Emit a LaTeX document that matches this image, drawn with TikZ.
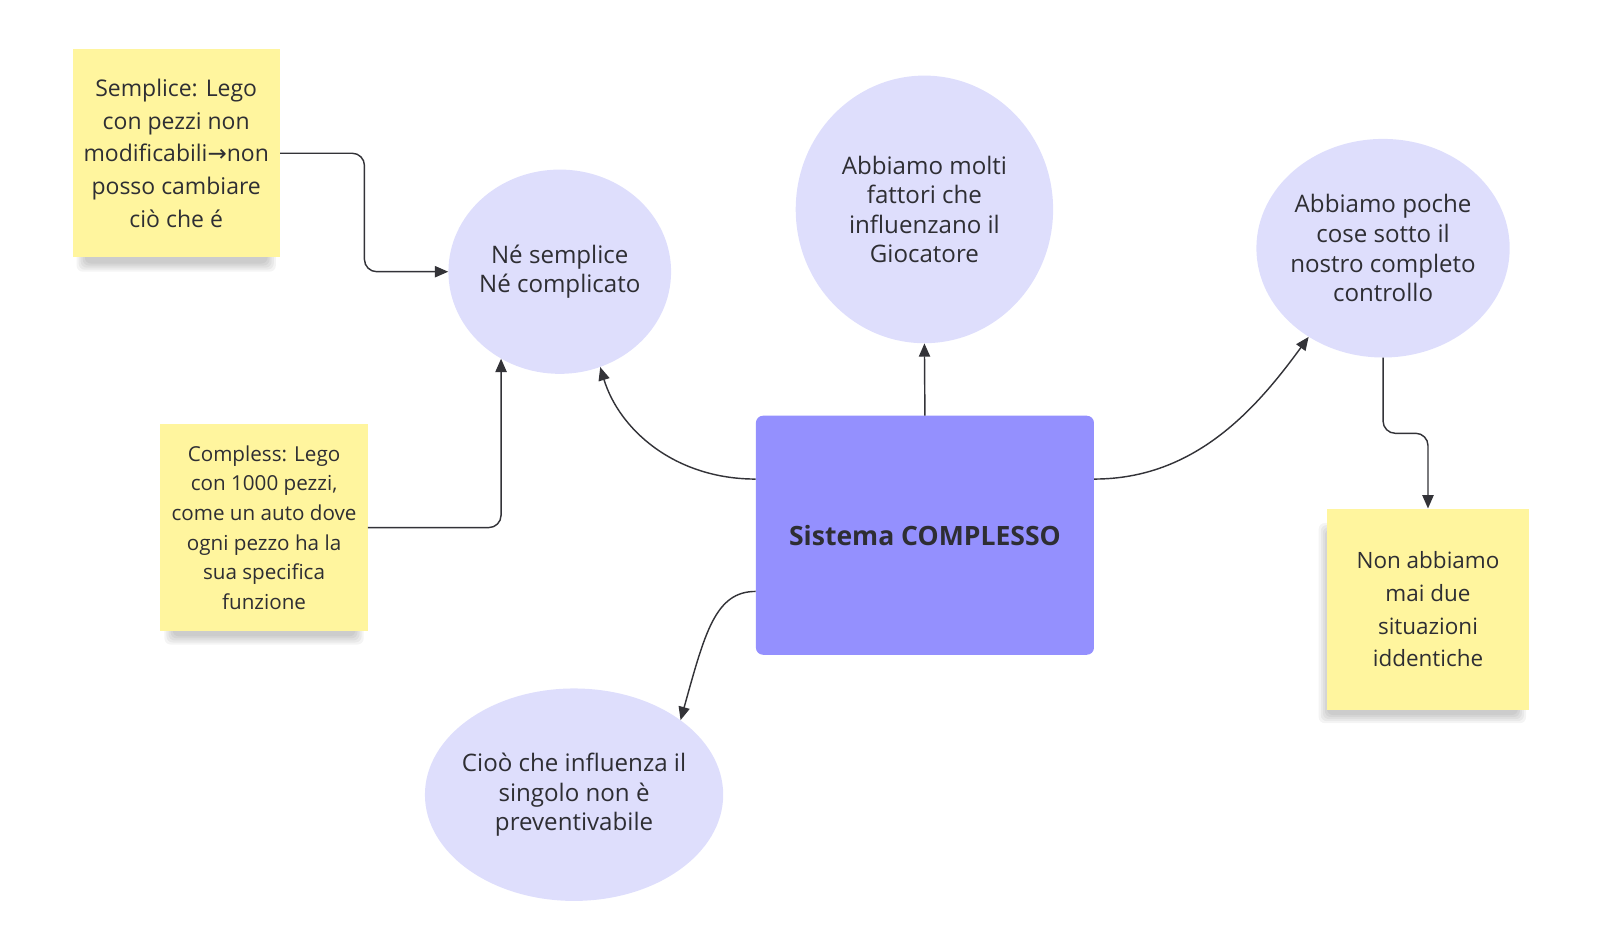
\documentclass[tikz,border=0pt]{standalone}
\usepackage{fontspec}
\setmainfont{Open Sans}
\newfontfamily\arrowfont{DejaVu Sans}
\usetikzlibrary{shapes.geometric,arrows.meta}
\definecolor{sticky}{HTML}{FFF59E}
\definecolor{circ}{HTML}{DEDEFC}
\definecolor{sysfill}{HTML}{9490FE}
\definecolor{ink}{HTML}{2E2E33}
\definecolor{wire}{HTML}{333338}
\tikzset{
  note/.style={rectangle, fill=sticky, inner sep=0pt, align=center, text=ink},
  bubble/.style={ellipse, fill=circ, inner sep=-40pt, align=center, text=ink,
    font=\fontsize{23.6}{29}\selectfont},
  sysbox/.style={rectangle, rounded corners=7pt, fill=sysfill, inner sep=0pt, text=ink,
    font=\fontsize{26}{30}\selectfont\bfseries},
  link/.style={draw=wire, line width=1.4pt, -{Triangle[length=13pt,width=11pt]}},
  shade/.style={fill=black, opacity=0.045},
}
\begin{document}
\begin{tikzpicture}[x=1pt,y=-1pt]
\useasboundingbox (0,0) rectangle (1566.4,932);
% soft shadows under the sticky notes
\foreach \d in {0,2,4,6,8}{
  \fill[shade, rounded corners=6pt] (75+\d,61+\d) rectangle (270-\d,266-\d);
  \fill[shade, rounded corners=6pt] (161+\d,427+\d) rectangle (356-\d,631-\d);
  \fill[shade, rounded corners=6pt] (1291+\d,512+\d) rectangle (1494-\d,708-\d);
}
% nodes
\node[note, minimum width=203pt, minimum height=204pt, font=\fontsize{22.5}{32}\selectfont]
  (s1) at (172.5,150) {Semplice: Lego\\con pezzi non\\modificabili{\arrowfont →}non\\posso cambiare\\ciò che é};
\node[note, minimum width=203pt, minimum height=203pt, font=\fontsize{20.2}{29}\selectfont]
  (s2) at (258.5,516.5) {Compless: Lego\\con 1000 pezzi,\\come un auto dove\\ogni pezzo ha la\\sua specifica\\funzione};
\node[note, minimum width=198pt, minimum height=197pt, font=\fontsize{22}{32}\selectfont]
  (s3) at (1398,596.5) {Non abbiamo\\mai due\\situazioni\\iddentiche};
\node[bubble, minimum width=218pt, minimum height=200pt] (ne) at (548,266) {Né semplice\\Né complicato};
\node[bubble, minimum width=252pt, minimum height=262pt] (c2) at (905,205) {Abbiamo molti\\fattori che\\influenzano il\\Giocatore};
\node[bubble, minimum width=248pt, minimum height=214pt] (c3) at (1354,243) {Abbiamo poche\\cose sotto il\\nostro completo\\controllo};
\node[bubble, minimum width=292pt, minimum height=208pt] (c4) at (562,778) {Cioò che influenza il\\singolo non è\\preventivabile};
\node[sysbox, minimum width=331pt, minimum height=234pt] (sys) at (905.5,524) {Sistema COMPLESSO};
% connectors
\draw[link, rounded corners=12pt] (s1.east) -| ([xshift=-82pt]ne.west) -- (ne.west);
\draw[link, rounded corners=12pt] (s2.east) -| (ne.-124);
\draw[link] ([yshift=55pt]sys.west) .. controls (660,469) and (606,420) .. (ne.-67);
\draw[link] (sys.north) -- (c2.south);
\draw[link] ([yshift=55pt]sys.east) .. controls (1170,469) and (1230,400) .. (c3.-130);
\draw[link] ([yshift=-55pt]sys.west) .. controls (700,579) and (690,620) .. (c4.35);
\draw[link, rounded corners=12pt] (c3.south) -- ++(0,74) -| (s3.north);
\end{tikzpicture}
\end{document}
